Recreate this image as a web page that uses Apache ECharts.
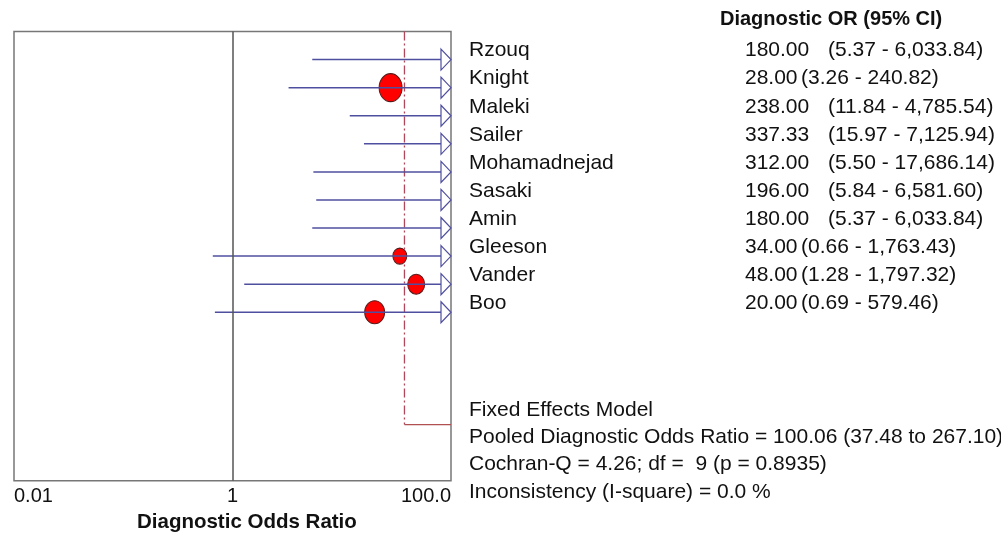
<!DOCTYPE html>
<html><head><meta charset="utf-8">
<script src="https://cdn.jsdelivr.net/npm/echarts@6/dist/echarts.min.js"></script>
<style>html,body{margin:0;padding:0;background:#fff}#c{width:1001px;height:536px}</style>
</head><body><div id="c"></div>
<script>
// ---- data ----
const studies = ['Rzouq','Knight','Maleki','Sailer','Mohamadnejad','Sasaki','Amin','Gleeson','Vander','Boo'];
const orValues = [180.00, 28.00, 238.00, 337.33, 312.00, 196.00, 180.00, 34.00, 48.00, 20.00];
const ciLower  = [5.37, 3.26, 11.84, 15.97, 5.50, 5.84, 5.37, 0.66, 1.28, 0.69];
const ciUpper  = [6033.84, 240.82, 4785.54, 7125.94, 17686.14, 6581.60, 6033.84, 1763.43, 1797.32, 579.46];
const pooledOR = 100.06, pooledLower = 37.48, pooledUpper = 267.10;
const pooledLineAt = 37.5;          // position of the pooled reference line as drawn
const pooledRow = 13;
const tickValues = [0.01, 1, 100];
const tickLabels = ['0.01', '1', '100.0'];
const summaryLines = [
  'Fixed Effects Model',
  'Pooled Diagnostic Odds Ratio = ' + pooledOR.toFixed(2) + ' (' + pooledLower.toFixed(2) + ' to ' + pooledUpper.toFixed(2) + ')',
  'Cochran-Q = 4.26; df =  9 (p = 0.8935)',
  'Inconsistency (I-square) = 0.0 %'
];

// ---- styling ----
const FONT = '"Liberation Sans", Arial, sans-serif';
const FS = 21;
const LINE_C = '#4f4f9f';
const POOL_C = '#b0475a';
const markerSize = {Knight:[23,28], Gleeson:[14,16], Vander:[17,20], Boo:[20,23]};
const X_MIN = 0.01, X_MAX = 100;

const fmt = v => v.toLocaleString('en-US', {minimumFractionDigits: 2, maximumFractionDigits: 2});

const ciData = studies.map((s, i) => [ciLower[i], ciUpper[i], i]);
const ptData = studies.map((s, i) => ({value: [orValues[i], i], symbolSize: markerSize[s] || [16, 18]}));
const txtData = studies.map((s, i) => [1, i]);

const chart = echarts.init(document.getElementById('c'), null, {renderer: 'canvas'});
chart.setOption({
  animation: false,
  backgroundColor: '#fff',
  grid: {left: 14, right: 550, top: 31.5, bottom: 55.3, show: true, borderColor: '#777', borderWidth: 1.5, backgroundColor: 'transparent'},
  xAxis: {
    type: 'log', logBase: 10, min: X_MIN, max: X_MAX,
    axisLine: {show: false}, axisTick: {show: false}, splitLine: {show: false},
    axisLabel: {
      margin: 6, color: '#111', fontSize: 20, fontFamily: FONT,
      alignMinLabel: 'left', alignMaxLabel: 'right',
      formatter: v => {
        for (let k = 0; k < tickValues.length; k++) {
          if (Math.abs(Math.log10(v) - Math.log10(tickValues[k])) < 1e-6) return tickLabels[k];
        }
        return '';
      }
    }
  },
  yAxis: {type: 'value', min: -1, max: 15, inverse: true, show: false},
  graphic: [
    {type: 'text', left: 720, top: 9, style: {text: 'Diagnostic OR (95% CI)', font: 'bold 20px ' + FONT, fill: '#111'}},
    {type: 'text', left: 137, top: 512, style: {text: 'Diagnostic Odds Ratio', font: 'bold 20.5px ' + FONT, fill: '#111'}}
  ].concat(summaryLines.map((t, k) => ({
    type: 'text', left: 469, top: 399.5 + k * 27.3, style: {text: t, font: FS + 'px ' + FONT, fill: '#111'}
  }))),
  series: [
    {
      type: 'scatter', z: 2, clip: true, data: ptData,
      itemStyle: {color: '#ff0000', borderColor: '#5a1a1a', borderWidth: 1, opacity: 1},
      markLine: {
        silent: true, symbol: 'none', label: {show: false}, animation: false,
        lineStyle: {color: '#555', width: 1.5, type: 'solid'},
        data: [{xAxis: 1}]
      }
    },
    {
      type: 'custom', z: 3, data: ciData,
      encode: {x: [0, 1], y: 2},
      renderItem: (params, api) => {
        const lo = api.value(0), hi = api.value(1), row = api.value(2);
        const p1 = api.coord([Math.max(lo, X_MIN), row]);
        const p2 = api.coord([Math.min(hi, X_MAX), row]);
        const children = [];
        const arrow = hi > X_MAX;
        const endX = arrow ? p2[0] - 10 : p2[0];
        children.push({type: 'line', shape: {x1: p1[0], y1: p1[1], x2: endX, y2: p2[1]},
          style: {stroke: LINE_C, lineWidth: 1.5}});
        if (arrow) {
          children.push({type: 'polygon', shape: {points: [[p2[0] - 10, p2[1] - 10.5], [p2[0], p2[1]], [p2[0] - 10, p2[1] + 10.5]]},
            style: {fill: '#fff', stroke: LINE_C, lineWidth: 1.2}});
        }
        return {type: 'group', children};
      }
    },
    {
      type: 'custom', z: 1, data: [[pooledLineAt, pooledRow]],
      encode: {x: 0, y: 1},
      renderItem: (params, api) => {
        const x = api.value(0), row = api.value(1);
        const top = api.coord([x, -1]);
        const bot = api.coord([x, row]);
        const right = api.coord([X_MAX, row]);
        return {type: 'group', children: [
          {type: 'line', shape: {x1: top[0], y1: top[1], x2: bot[0], y2: bot[1]},
            style: {stroke: POOL_C, lineWidth: 1.3, lineDash: [9, 3, 2, 3]}},
          {type: 'line', shape: {x1: bot[0], y1: bot[1], x2: right[0], y2: right[1]},
            style: {stroke: '#b05050', lineWidth: 1.3}}
        ]};
      }
    },
    {
      type: 'custom', z: 4, data: txtData, clip: false,
      encode: {y: 1},
      renderItem: (params, api) => {
        const i = params.dataIndex;
        const y = api.coord([1, api.value(1)])[1] - 9;
        const v = orValues[i].toFixed(2);
        const ci = '(' + fmt(ciLower[i]) + ' - ' + fmt(ciUpper[i]) + ')';
        const ciX = v.length >= 6 ? 828 : 801;
        const st = t => ({text: t, font: FS + 'px ' + FONT, fill: '#111', verticalAlign: 'middle'});
        return {type: 'group', children: [
          {type: 'text', x: 469, y: y, style: st(studies[i])},
          {type: 'text', x: 745, y: y, style: st(v)},
          {type: 'text', x: ciX, y: y, style: st(ci)}
        ]};
      }
    }
  ]
});
</script></body></html>
